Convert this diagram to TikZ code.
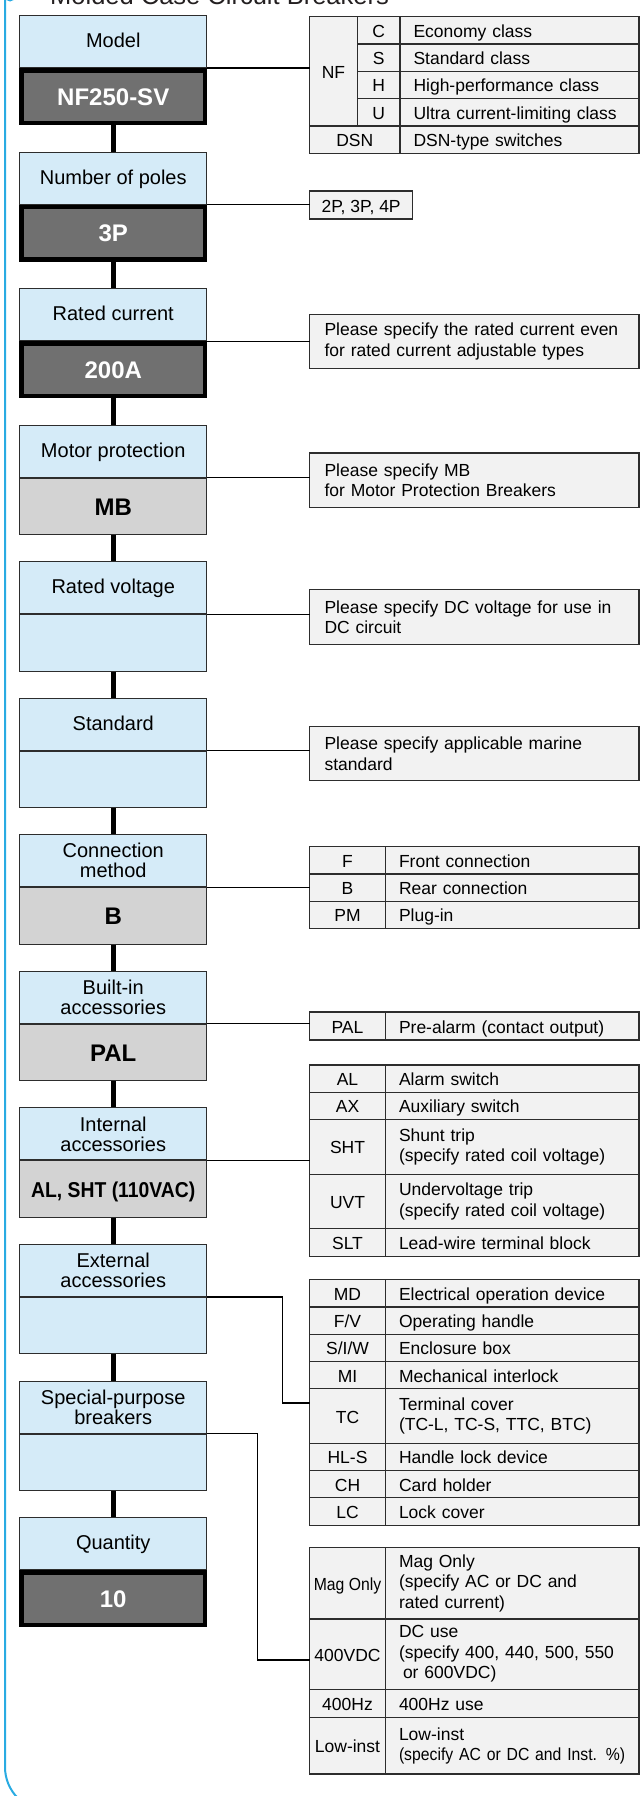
\documentclass[tikz,border=0pt]{standalone}
\usepackage{fontspec}
\setmainfont{Liberation Sans}
\newfontfamily\condfont[FakeStretch=0.9]{Liberation Sans}
\usepackage{tikz}
\usetikzlibrary{positioning}
\usepackage{xcolor}
\definecolor{frameblue}{RGB}{41,171,226}
\definecolor{skyfill}{RGB}{213,235,248}
\definecolor{darkfill}{RGB}{112,112,112}
\definecolor{greyfill}{RGB}{211,211,211}
\definecolor{cellfill}{RGB}{242,242,242}
\definecolor{boxline}{RGB}{45,45,45}
\definecolor{titlegray}{RGB}{35,31,32}

\tikzset{
  head/.style={rectangle,draw=boxline,fill=skyfill,line width=1pt,
    minimum width=187pt,minimum height=52pt,inner sep=0pt,align=center,
    font=\fontsize{20}{20}\selectfont},
  onehead/.style={head,text height=15pt,text depth=3pt},
  darkval/.style={rectangle,draw=black,fill=darkfill,line width=4.5pt,
    minimum width=183.5pt,minimum height=52.8pt,inner sep=0pt,text=white,
    font=\fontsize{24}{24}\selectfont\bfseries,text height=17.5pt,text depth=0pt},
  greyval/.style={rectangle,draw=boxline,fill=greyfill,line width=1pt,
    minimum width=187pt,minimum height=56.3pt,inner sep=0pt,
    font=\fontsize{24}{24}\selectfont\bfseries,text height=17.5pt,text depth=0pt},
  blankval/.style={greyval,fill=skyfill},
  cell/.style={rectangle,draw=boxline,fill=cellfill,line width=1.1pt,
    outer sep=0pt,inner sep=0pt,font=\fontsize{17.5}{20.5}\selectfont},
  codecell/.style={cell,minimum width=76pt,minimum height=27.3pt,
    text height=14pt,text depth=0pt},
  desccell/.style={cell,text width=226.5pt,inner xsep=13.5pt,align=left,
    minimum height=27.3pt,text height=14pt,text depth=0pt},
  multicell/.style={cell,text width=226.5pt,inner xsep=13.5pt,align=left},
  notecell/.style={cell,text width=299.5pt,inner xsep=15pt,align=left,
    minimum height=54.6pt,anchor=north west},
  link/.style={draw=black,line width=1.1pt},
  trunk/.style={draw=black,line width=4.5pt}
}

\begin{document}
\begin{tikzpicture}[x=1pt,y=-1pt]
\clip (0,0) rectangle (640,1796);
\draw[frameblue,line width=2pt,rounded corners=44pt] (5,-20) -- (5,1811) -- (700,1811);
\node[circle,fill=frameblue,minimum size=11pt,inner sep=0pt] (bullet) at (10,-4) {};
\node[anchor=base west,inner sep=0pt,text=titlegray,
      font=\fontsize{25.5}{26}\selectfont] (title) at (50,4.5) {Molded Case Circuit Breakers};

% left column
\node[onehead] (model) at (113.25,41.5) {Model};
\node[darkval,below=0pt of model] (modelval) {NF250-SV};
\node[onehead,below=26.25pt of modelval] (poles) {Number of poles};
\node[darkval,below=0pt of poles] (polesval) {3P};
\node[onehead,below=26.25pt of polesval] (current) {Rated current};
\node[darkval,below=0pt of current] (currentval) {200A};
\node[onehead,below=26.25pt of currentval] (motor) {Motor protection};
\node[greyval,below=0pt of motor] (motorval) {MB};
\node[onehead,below=26.25pt of motorval] (voltage) {Rated voltage};
\node[blankval,below=0pt of voltage] (voltageval) {};
\node[onehead,below=26.25pt of voltageval] (standard) {Standard};
\node[blankval,below=0pt of standard] (standardval) {};
\node[head,below=26.25pt of standardval] (connection) {Connection\\method};
\node[greyval,below=0pt of connection] (connectionval) {B};
\node[head,below=26.25pt of connectionval] (builtin) {Built-in\\accessories};
\node[greyval,below=0pt of builtin] (builtinval) {PAL};
\node[head,below=26.25pt of builtinval] (internal) {Internal\\accessories};
\node[greyval,below=0pt of internal,
      font=\condfont\fontsize{21.5}{22}\selectfont\bfseries] (internalval) {AL, SHT (110VAC)};
\node[head,below=26.25pt of internalval] (external) {External\\accessories};
\node[blankval,below=0pt of external] (externalval) {};
\node[head,below=26.25pt of externalval] (special) {Special-purpose\\breakers};
\node[blankval,below=0pt of special] (specialval) {};
\node[onehead,below=26.25pt of specialval] (quantity) {Quantity};
\node[darkval,below=0pt of quantity] (quantityval) {10};

\draw[trunk] (modelval) -- (poles);
\draw[trunk] (polesval) -- (current);
\draw[trunk] (currentval) -- (motor);
\draw[trunk] (motorval) -- (voltage);
\draw[trunk] (voltageval) -- (standard);
\draw[trunk] (standardval) -- (connection);
\draw[trunk] (connectionval) -- (builtin);
\draw[trunk] (builtinval) -- (internal);
\draw[trunk] (internalval) -- (external);
\draw[trunk] (externalval) -- (special);
\draw[trunk] (specialval) -- (quantity);

% model table
\node[cell,minimum width=48pt,minimum height=109.3pt,anchor=north west,
      text height=14pt,text depth=0pt] (nf) at (309.5,16.7) {NF};
\node[codecell,minimum width=42.5pt,anchor=north west] (codeC) at (nf.north east) {C};
\node[desccell,text width=212pt,right=0pt of codeC] (descC) {Economy class};
\node[codecell,minimum width=42.5pt,below=0pt of codeC] (codeS) {S};
\node[desccell,text width=212pt,right=0pt of codeS] (descS) {Standard class};
\node[codecell,minimum width=42.5pt,below=0pt of codeS] (codeH) {H};
\node[desccell,text width=212pt,right=0pt of codeH] (descH) {High-performance class};
\node[codecell,minimum width=42.5pt,below=0pt of codeH] (codeU) {U};
\node[desccell,text width=212pt,right=0pt of codeU] (descU) {Ultra current-limiting class};
\node[codecell,minimum width=90.5pt,anchor=north west] (codeDSN) at (nf.south west) {DSN};
\node[desccell,text width=212pt,right=0pt of codeDSN] (descDSN) {DSN-type switches};

% poles and notes
\node[codecell,minimum width=103.2pt,minimum height=28pt,anchor=north west] (polelist) at (309.5,191) {2P, 3P, 4P};
\node[notecell] (notecurrent) at (309.5,314.3)
  {Please specify the rated current even\\for rated current adjustable types};
\node[notecell] (notemotor) at (309.5,453)
  {Please specify MB\\for Motor Protection Breakers};
\node[notecell] (notevoltage) at (309.5,589.7)
  {Please specify DC voltage for use in\\DC circuit};
\node[notecell] (notestandard) at (309.5,726.3)
  {Please specify applicable marine\\standard};

% connection table
\node[codecell,anchor=north west] (codeF) at (309.5,846.7) {F};
\node[desccell,right=0pt of codeF] (descF) {Front connection};
\node[codecell,below=0pt of codeF] (codeB) {B};
\node[desccell,right=0pt of codeB] (descB) {Rear connection};
\node[codecell,below=0pt of codeB] (codePM) {PM};
\node[desccell,right=0pt of codePM] (descPM) {Plug-in};

% built-in table
\node[codecell,minimum height=28pt,anchor=north west] (codePAL) at (309.5,1012) {PAL};
\node[desccell,minimum height=28pt,right=0pt of codePAL] (descPAL) {Pre-alarm (contact output)};

% internal table
\node[codecell,anchor=north west] (codeAL) at (309.5,1065) {AL};
\node[desccell,right=0pt of codeAL] (descAL) {Alarm switch};
\node[codecell,below=0pt of codeAL] (codeAX) {AX};
\node[desccell,right=0pt of codeAX] (descAX) {Auxiliary switch};
\node[codecell,minimum height=54.7pt,below=0pt of codeAX] (codeSHT) {SHT};
\node[multicell,minimum height=54.7pt,right=0pt of codeSHT] (descSHT)
  {Shunt trip\\(specify rated coil voltage)};
\node[codecell,minimum height=54.6pt,below=0pt of codeSHT] (codeUVT) {UVT};
\node[multicell,minimum height=54.6pt,right=0pt of codeUVT] (descUVT)
  {Undervoltage trip\\(specify rated coil voltage)};
\node[codecell,below=0pt of codeUVT] (codeSLT) {SLT};
\node[desccell,right=0pt of codeSLT] (descSLT) {Lead-wire terminal block};

% external table
\node[codecell,anchor=north west] (codeMD) at (309.5,1279.7) {MD};
\node[desccell,right=0pt of codeMD] (descMD) {Electrical operation device};
\node[codecell,below=0pt of codeMD] (codeFV) {F/V};
\node[desccell,right=0pt of codeFV] (descFV) {Operating handle};
\node[codecell,below=0pt of codeFV] (codeSIW) {S/I/W};
\node[desccell,right=0pt of codeSIW] (descSIW) {Enclosure box};
\node[codecell,below=0pt of codeSIW] (codeMI) {MI};
\node[desccell,right=0pt of codeMI] (descMI) {Mechanical interlock};
\node[codecell,minimum height=54.3pt,below=0pt of codeMI] (codeTC) {TC};
\node[multicell,minimum height=54.3pt,right=0pt of codeTC] (descTC)
  {Terminal cover\\(TC-L, TC-S, TTC, BTC)};
\node[codecell,below=0pt of codeTC] (codeHLS) {HL-S};
\node[desccell,right=0pt of codeHLS] (descHLS) {Handle lock device};
\node[codecell,below=0pt of codeHLS] (codeCH) {CH};
\node[desccell,right=0pt of codeCH] (descCH) {Card holder};
\node[codecell,below=0pt of codeCH] (codeLC) {LC};
\node[desccell,right=0pt of codeLC] (descLC) {Lock cover};

% special-purpose table
\node[codecell,minimum height=71.3pt,anchor=north west] (codeMag) at (309.5,1547.7) {{\condfont Mag Only}};
\node[multicell,minimum height=71.3pt,right=0pt of codeMag] (descMag)
  {Mag Only\\(specify AC or DC and\\rated current)};
\node[codecell,minimum height=70.3pt,below=0pt of codeMag] (codeVDC) {400VDC};
\node[multicell,minimum height=70.3pt,right=0pt of codeVDC] (descVDC)
  {DC use\\(specify 400, 440, 500, 550\\\hspace*{4pt}or 600VDC)};
\node[codecell,minimum height=28.4pt,below=0pt of codeVDC] (codeHz) {400Hz};
\node[desccell,minimum height=28.4pt,right=0pt of codeHz] (descHz) {400Hz use};
\node[codecell,minimum height=56.3pt,below=0pt of codeHz] (codeLow) {Low-inst};
\node[multicell,minimum height=56.3pt,right=0pt of codeLow] (descLow)
  {Low-inst\\{\condfont (specify AC or DC and Inst. \%)}};

% links
\draw[link] (model.south east) -- (model.south east -| nf.west);
\draw[link] (poles.south east) -- (poles.south east -| polelist.west);
\draw[link] (current.south east) -- (current.south east -| notecurrent.west);
\draw[link] (motor.south east) -- (motor.south east -| notemotor.west);
\draw[link] (voltage.south east) -- (voltage.south east -| notevoltage.west);
\draw[link] (standard.south east) -- (standard.south east -| notestandard.west);
\draw[link] (connection.south east) -- (connection.south east -| codeB.west);
\draw[link] (builtin.south east) -- (builtin.south east -| codePAL.west);
\draw[link] (internal.south east) -- (internal.south east -| codeSHT.west);
\coordinate (bendext) at (282.7,1403);
\draw[link] (external.south east) -| (bendext) -- (bendext -| codeTC.west);
\coordinate (bendspec) at (257.6,1660);
\draw[link] (special.south east) -| (bendspec) -- (bendspec -| codeVDC.west);
\end{tikzpicture}
\end{document}
